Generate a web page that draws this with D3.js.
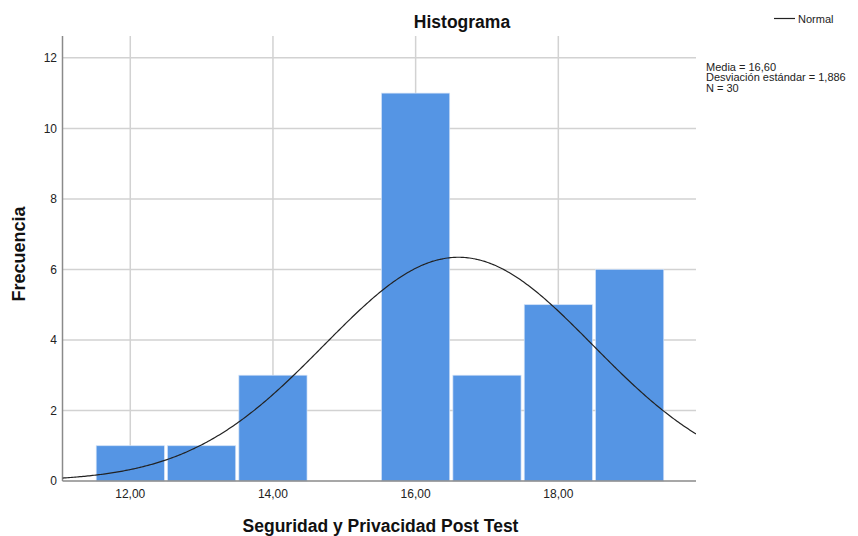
<!DOCTYPE html>
<html>
<head>
<meta charset="utf-8">
<script src="https://cdn.jsdelivr.net/npm/d3@7/dist/d3.min.js"></script>
<style>
  html, body { margin: 0; padding: 0; background: #fff; }
  svg { display: block; font-family: "Liberation Sans", Arial, sans-serif; }
</style>
</head>
<body>
<svg id="chart" width="858" height="536"></svg>
<script>
// Histogram bins (lower edge, upper edge) and frequencies
const binStarts = [11.5, 12.5, 13.5, 14.5, 15.5, 16.5, 17.5, 18.5];
const binEnds   = [12.5, 13.5, 14.5, 15.5, 16.5, 17.5, 18.5, 19.5];
const counts    = [1, 1, 3, 0, 11, 3, 5, 6];

// Axis ticks
const xTicks = [12, 14, 16, 18];
const yTicks = [0, 2, 4, 6, 8, 10, 12];

// Summary statistics shown in the annotation
const mean = 16.60;
const stdDev = 1.886;
const nTotal = 30;
const binWidth = 1;

const svg = d3.select("#chart");

const plotLeft = 62.5, plotRight = 696, plotTop = 36, plotBottom = 481;

const x = d3.scaleLinear().domain([11.05, 19.93]).range([plotLeft, plotRight]);
const y = d3.scaleLinear().domain([0, 12.62]).range([plotBottom, plotTop]);

const fmt = d => d.toFixed(2).replace(".", ",");

// Grid lines
const grid = svg.append("g");
grid.selectAll("line.h").data(yTicks.filter(d => d > 0)).join("line")
  .attr("class", "h")
  .attr("x1", plotLeft).attr("x2", plotRight)
  .attr("y1", d => y(d)).attr("y2", d => y(d))
  .attr("stroke", "#d2d2d2").attr("stroke-width", 1.5);
grid.selectAll("line.v").data(xTicks).join("line")
  .attr("class", "v")
  .attr("x1", d => x(d)).attr("x2", d => x(d))
  .attr("y1", plotTop).attr("y2", plotBottom)
  .attr("stroke", "#d2d2d2").attr("stroke-width", 1.5);

// Bars
const bins = counts.map((c, i) => ({ x0: binStarts[i], x1: binEnds[i], count: c }));
svg.append("g").selectAll("rect").data(bins.filter(b => b.count > 0)).join("rect")
  .attr("x", d => x(d.x0) + 1.6)
  .attr("width", d => x(d.x1) - x(d.x0) - 3.2)
  .attr("y", d => y(d.count))
  .attr("height", d => y(0) - y(d.count))
  .attr("fill", "#5595e4")
  .attr("stroke", "#cfe0f7")
  .attr("stroke-width", 0.7);

// Axes lines
svg.append("line")
  .attr("x1", plotLeft).attr("x2", plotLeft).attr("y1", plotTop).attr("y2", plotBottom)
  .attr("stroke", "#8a8a8a").attr("stroke-width", 1.5);
svg.append("line")
  .attr("x1", plotLeft).attr("x2", plotRight).attr("y1", plotBottom).attr("y2", plotBottom)
  .attr("stroke", "#8a8a8a").attr("stroke-width", 1.5);

// Fitted normal curve scaled to counts
svg.append("clipPath").attr("id", "plotClip")
  .append("rect").attr("x", plotLeft).attr("y", plotTop)
  .attr("width", plotRight - plotLeft).attr("height", plotBottom - plotTop);

const curvePts = d3.range(0, 401).map(i => {
  const v = 11.05 + (19.93 - 11.05) * i / 400;
  const z = (v - mean) / stdDev;
  return [v, nTotal * binWidth * Math.exp(-0.5 * z * z) / (stdDev * Math.sqrt(2 * Math.PI))];
});
svg.append("path")
  .datum(curvePts)
  .attr("clip-path", "url(#plotClip)")
  .attr("fill", "none")
  .attr("stroke", "#222")
  .attr("stroke-width", 1.2)
  .attr("d", d3.line().x(d => x(d[0])).y(d => y(d[1])).curve(d3.curveBasis));

// Tick labels
svg.append("g").selectAll("text").data(yTicks).join("text")
  .attr("x", 57).attr("y", d => y(d) + 4.3)
  .attr("text-anchor", "end")
  .attr("font-size", 12).attr("fill", "#222")
  .text(d => d);
svg.append("g").selectAll("text").data(xTicks).join("text")
  .attr("x", d => x(d)).attr("y", 498)
  .attr("text-anchor", "middle")
  .attr("font-size", 12).attr("fill", "#222")
  .text(d => fmt(d));

// Titles
svg.append("text")
  .attr("x", 462).attr("y", 27.5)
  .attr("text-anchor", "middle")
  .attr("font-size", 17.5).attr("font-weight", "bold").attr("fill", "#111")
  .text("Histograma");
svg.append("text")
  .attr("x", 380.5).attr("y", 532)
  .attr("text-anchor", "middle")
  .attr("font-size", 17.5).attr("font-weight", "bold").attr("fill", "#111")
  .text("Seguridad y Privacidad Post Test");
svg.append("text")
  .attr("transform", "translate(25,254) rotate(-90)")
  .attr("text-anchor", "middle")
  .attr("font-size", 18).attr("font-weight", "bold").attr("fill", "#111")
  .text("Frecuencia");

// Legend
svg.append("line")
  .attr("x1", 774).attr("x2", 795).attr("y1", 18.5).attr("y2", 18.5)
  .attr("stroke", "#222").attr("stroke-width", 1.2);
svg.append("text")
  .attr("x", 798).attr("y", 22.5)
  .attr("font-size", 11).attr("fill", "#222")
  .text("Normal");

// Statistics annotation
const statLines = [
  "Media = " + fmt(mean),
  "Desviación estándar = " + stdDev.toFixed(3).replace(".", ","),
  "N = " + nTotal
];
svg.append("g").selectAll("text").data(statLines).join("text")
  .attr("x", 706).attr("y", (d, i) => 70.5 + i * 10.5)
  .attr("font-size", 11).attr("fill", "#222")
  .text(d => d);
</script>
</body>
</html>
